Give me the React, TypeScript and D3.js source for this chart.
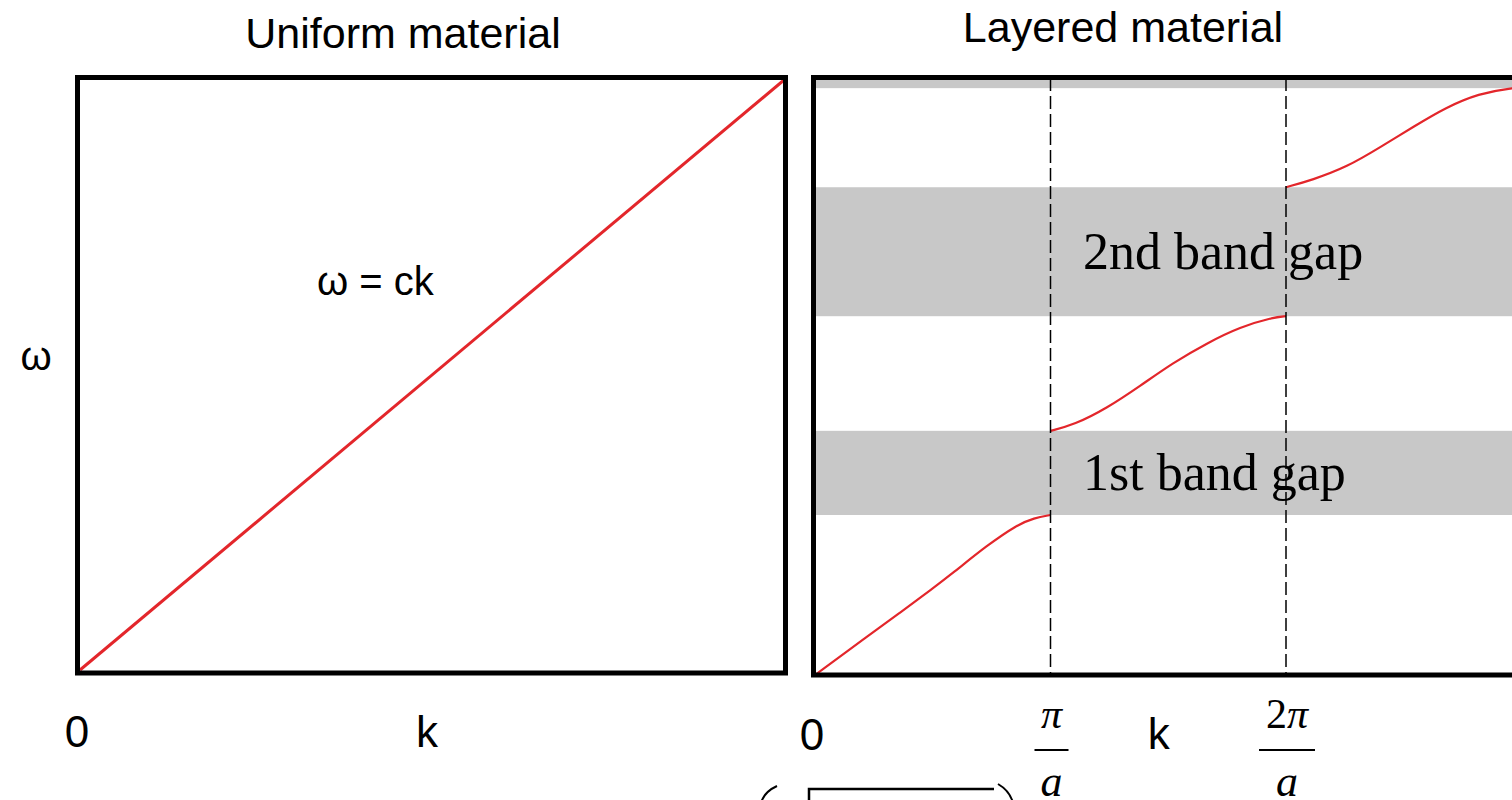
import * as d3 from 'd3';
import React from 'react';

// left panel: free photon, ω = ck (normalised units)
const uniformK = [0, 1];
const uniformW = [0, 1];

// right panel: k in units of π/a, ω in arbitrary units (0..10)
const band1K = [0, 0.22, 0.36, 0.5, 0.58, 0.73, 0.86, 0.93, 1.0];
const band1W = [0, 0.64, 1.04, 1.45, 1.69, 2.17, 2.52, 2.63, 2.68];
const band2K = [1.0, 1.1, 1.24, 1.38, 1.52, 1.665, 1.805, 1.945, 2.0];
const band2W = [4.09, 4.19, 4.47, 4.84, 5.23, 5.56, 5.83, 5.99, 6.01];
const band3K = [2.0, 2.11, 2.26, 2.4, 2.54, 2.68, 2.82, 2.95, 3.05];
const band3W = [8.17, 8.29, 8.51, 8.84, 9.18, 9.51, 9.74, 9.83, 9.85];

const gapLow = [2.68, 6.01, 9.83];
const gapHigh = [4.09, 8.17, 10.5];
const gapLabels = ['1st band gap', '2nd band gap', ''];

const zoneEdges = [1, 2];
const zoneLabels = ['π', '2π'];

const RED = '#e3262b';
const GRAY = '#c8c8c8';
const SANS = '"Liberation Sans", Arial, sans-serif';
const SERIF = '"Liberation Serif", "Times New Roman", serif';

const App = () => {
    // scales
    const xL = d3.scaleLinear().domain([0, 1]).range([80, 784]);
    const yL = d3.scaleLinear().domain([0, 1]).range([670, 80]);

    const xR = d3.scaleLinear().domain([0, 1]).range([815, 1050.5]);
    const yR = d3.scaleLinear().domain([0, 10]).range([675, 78]);

    const lineL = d3.line<number[]>()
        .x(d => xL(d[0]))
        .y(d => yL(d[1]));

    const lineR = d3.line<number[]>()
        .x(d => xR(d[0]))
        .y(d => yR(d[1]))
        .curve(d3.curveBasis);

    const bands = [
        d3.zip(band1K, band1W),
        d3.zip(band2K, band2W),
        d3.zip(band3K, band3W),
    ];

    const rightEdge = xR(3.05);

    return (
        <svg width={1512} height={800} style={{ position: 'absolute', left: 0, top: 0, background: '#fff' }}>
            <defs>
                <clipPath id="rclip">
                    <rect x={815} y={78} width={rightEdge - 815} height={597} />
                </clipPath>
            </defs>

            {/* titles */}
            <text x={403} y={48} textAnchor="middle" fontFamily={SANS} fontSize={43}>Uniform material</text>
            <text x={1123} y={42} textAnchor="middle" fontFamily={SANS} fontSize={43}>Layered material</text>

            {/* left panel */}
            <rect x={77.5} y={77.5} width={708} height={595.5} fill="#fff" />
            <path d={lineL(d3.zip(uniformK, uniformW)) || ''} fill="none" stroke={RED} strokeWidth={3} />
            <rect x={77.5} y={77.5} width={708} height={595.5} fill="none" stroke="#000" strokeWidth={5} />
            <text x={317} y={295} fontFamily={SANS} fontSize={40}>ω = ck</text>
            <text x={36} y={370} textAnchor="middle" fontFamily={SANS} fontSize={40}>ω</text>
            <text x={xL(0) - 3} y={747} textAnchor="middle" fontFamily={SANS} fontSize={44}>0</text>
            <text x={xL(0.493)} y={747} textAnchor="middle" fontFamily={SANS} fontSize={44}>k</text>

            {/* right panel */}
            <g clipPath="url(#rclip)">
                <rect x={815} y={78} width={rightEdge - 815} height={597} fill="#fff" />
                {gapLow.map((lo, i) => (
                    <rect key={i} x={815} width={rightEdge - 815}
                        y={yR(gapHigh[i])} height={yR(lo) - yR(gapHigh[i])} fill={GRAY} />
                ))}
                {gapLabels.map((t, i) => t && (
                    <text key={i} x={1083} y={(yR(gapLow[i]) + yR(gapHigh[i])) / 2 + 17}
                        fontFamily={SERIF} fontSize={52}>{t}</text>
                ))}
                {bands.map((b, i) => (
                    <path key={i} d={lineR(b) || ''} fill="none" stroke={RED} strokeWidth={2.2} />
                ))}
                {zoneEdges.map(k => (
                    <line key={k} x1={xR(k)} x2={xR(k)} y1={78} y2={675}
                        stroke="#000" strokeWidth={1.5} strokeDasharray="13,5" />
                ))}
            </g>
            <rect x={813.5} y={77.5} width={rightEdge - 813.5} height={597.5} fill="none" stroke="#000" strokeWidth={5} />

            <text x={xR(0) - 3} y={750} textAnchor="middle" fontFamily={SANS} fontSize={44}>0</text>
            <text x={xR(1.46)} y={749} textAnchor="middle" fontFamily={SANS} fontSize={44}>k</text>
            {zoneEdges.map((k, i) => {
                const cx = xR(k) + 1;
                const half = i === 0 ? 17 : 28;
                return (
                    <g key={k}>
                        <text x={cx} y={728} textAnchor="middle" fontFamily={SERIF} fontSize={42}>
                            {zoneLabels[i].length > 1 ? <tspan>2</tspan> : null}
                            <tspan fontStyle="italic">π</tspan>
                        </text>
                        <line x1={cx - half} x2={cx + half} y1={750} y2={750} stroke="#000" strokeWidth={2} />
                        <text x={cx} y={796} textAnchor="middle" fontFamily={SERIF} fontStyle="italic" fontSize={44}>a</text>
                    </g>
                );
            })}

            {/* cut-off formula at the bottom */}
            <path d="M777,786 Q764,792 761,803" fill="none" stroke="#000" strokeWidth={2} />
            <path d="M809,803 L809,789 L994,789" fill="none" stroke="#000" strokeWidth={2.5} />
            <path d="M998,784 Q1010,791 1013,803" fill="none" stroke="#000" strokeWidth={2} />
        </svg>
    );
};

export default App;
